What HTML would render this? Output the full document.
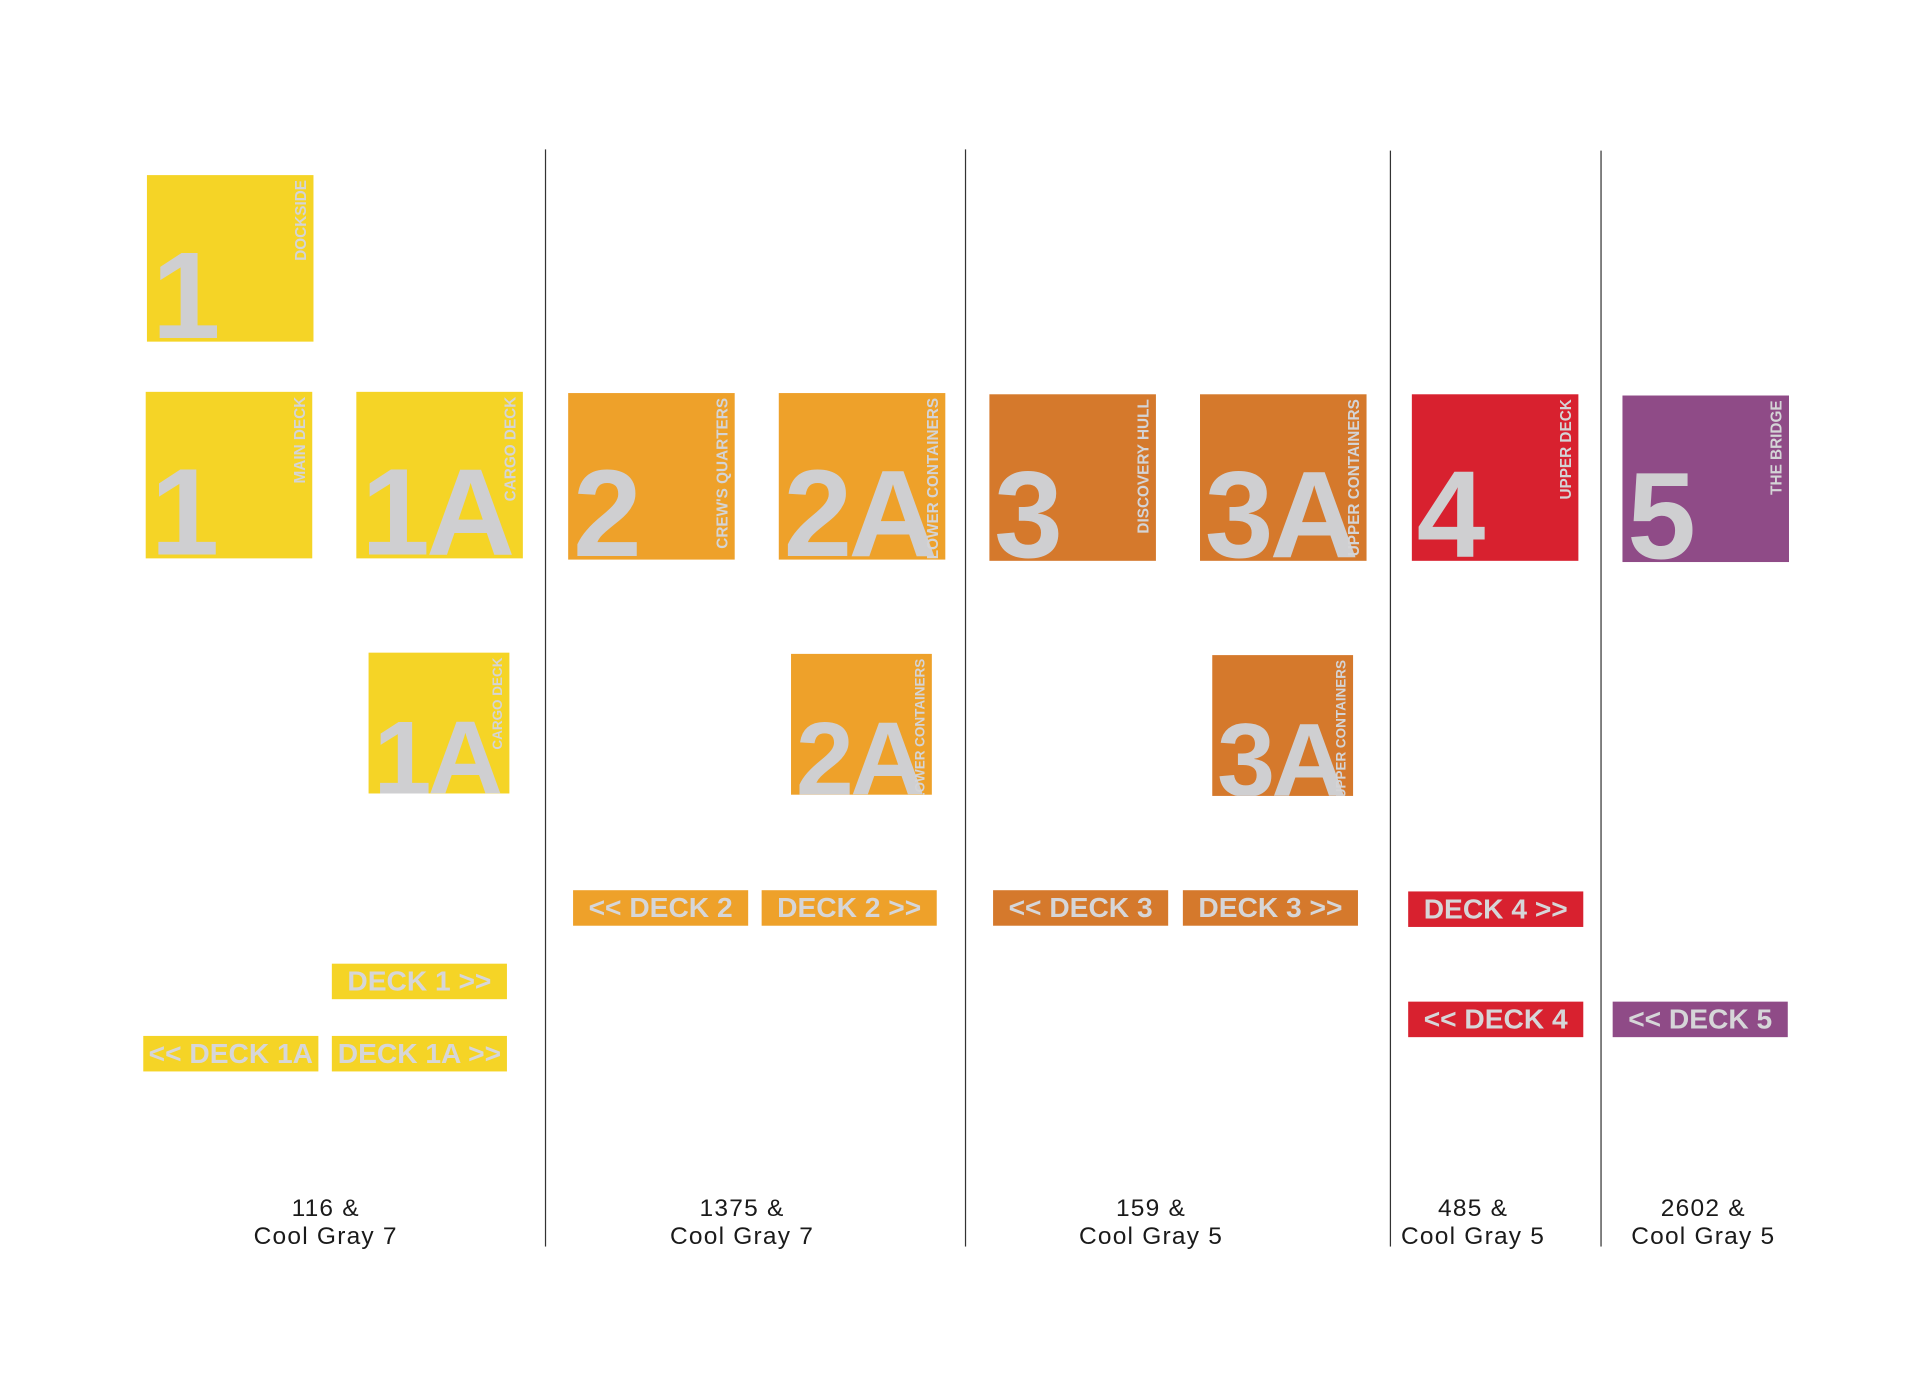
<!DOCTYPE html>
<html><head><meta charset="utf-8"><style>
html,body{margin:0;padding:0;background:#fff;width:1920px;height:1396px;overflow:hidden}
#stage{position:absolute;left:0;top:0;width:1568px;height:1140px;transform:scale(1.2245);transform-origin:0 0}
.div{position:absolute;width:1.3px;background:#333}
.sq{position:absolute;overflow:hidden}
.num{position:absolute;left:4px;bottom:-14px;font-family:"Liberation Sans Narrow","Liberation Sans",sans-serif;font-weight:bold;color:#cfcfd1;line-height:1;letter-spacing:-3px}
.vl{position:absolute;top:4px;right:3px;writing-mode:vertical-rl;transform:rotate(180deg);font-family:"Liberation Sans Narrow","Liberation Sans",sans-serif;font-weight:bold;color:#d4d4d6;font-size:12.5px;white-space:nowrap}
.bar{position:absolute;height:29px;color:#d6d6d8;font-family:"Liberation Sans Narrow","Liberation Sans",sans-serif;font-weight:bold;font-size:23px;line-height:29px;text-align:center;white-space:nowrap}
.lab{position:absolute;width:200px;text-align:center;font-family:"Liberation Sans",sans-serif;font-size:20px;line-height:23px;color:#1a1a1a;letter-spacing:1px}
</style></head><body>
<div id="stage"></div>
<script>
const C={y:'#f5d426',o:'#eea12a',r:'#d5792c',d:'#d8212f',p:'#8f4b87'};
const dividers=[[445,122,1018],[788,122,1018],[1135,123,1018],[1307,123,1018]];
const squares=[
['1','DOCKSIDE',120,143,136,'y'],['1','MAIN DECK',119,320,136,'y'],['1A','CARGO DECK',291,320,136,'y'],['1A','CARGO DECK',301,533,115,'y'],
['2',"CREW'S QUARTERS",464,321,136,'o'],['2A','LOWER CONTAINERS',636,321,136,'o'],['2A','LOWER CONTAINERS',646,534,115,'o'],
['3','DISCOVERY HULL',808,322,136,'r'],['3A','UPPER CONTAINERS',980,322,136,'r'],['3A','UPPER CONTAINERS',990,535,115,'r'],
['4','UPPER DECK',1153,322,136,'d'],['5','THE BRIDGE',1325,323,136,'p']];
const bars=[['<< DECK 2',468,727,'o'],['DECK 2 >>',622,727,'o'],['<< DECK 3',811,727,'r'],['DECK 3 >>',966,727,'r'],
['DECK 4 >>',1150,728,'d'],['<< DECK 4',1150,818,'d'],['<< DECK 5',1317,818,'p'],
['DECK 1 >>',271,787,'y'],['<< DECK 1A',117,846,'y'],['DECK 1A >>',271,846,'y']];
const labels=[['116 &','Cool Gray 7',266],['1375 &','Cool Gray 7',606],['159 &','Cool Gray 5',940],['485 &','Cool Gray 5',1203],['2602 &','Cool Gray 5',1391]];
const st=document.getElementById('stage');
dividers.forEach(d=>{const e=document.createElement('div');e.className='div';


e.style.left=d[0]+'px';e.style.top=d[1]+'px';e.style.height=(d[2]-d[1])+'px';st.appendChild(e);});
squares.forEach(s=>{const e=document.createElement('div');e.className='sq';


e.style.left=s[2]+'px';e.style.top=s[3]+'px';e.style.width=s[4]+'px';e.style.height=s[4]+'px';e.style.background=C[s[5]];
const n=document.createElement('div');n.className='num';n.textContent=s[0];


n.style.fontSize=(s[4]*0.74)+'px';
const v=document.createElement('div');v.className='vl';v.textContent=s[1];


if(s[4]<130)v.style.fontSize='11px';
e.appendChild(n);e.appendChild(v);st.appendChild(e);});
bars.forEach(b=>{const e=document.createElement('div');e.className='bar';e.textContent=b[0];


e.style.left=b[1]+'px';e.style.top=b[2]+'px';e.style.width='143px';e.style.background=C[b[3]];st.appendChild(e);});
labels.forEach(l=>{const e=document.createElement('div');e.className='lab';


e.innerHTML=l[0]+'<br>'+l[1];e.style.left=(l[2]-100)+'px';e.style.top='976px';st.appendChild(e);});
</script>
</body></html>
